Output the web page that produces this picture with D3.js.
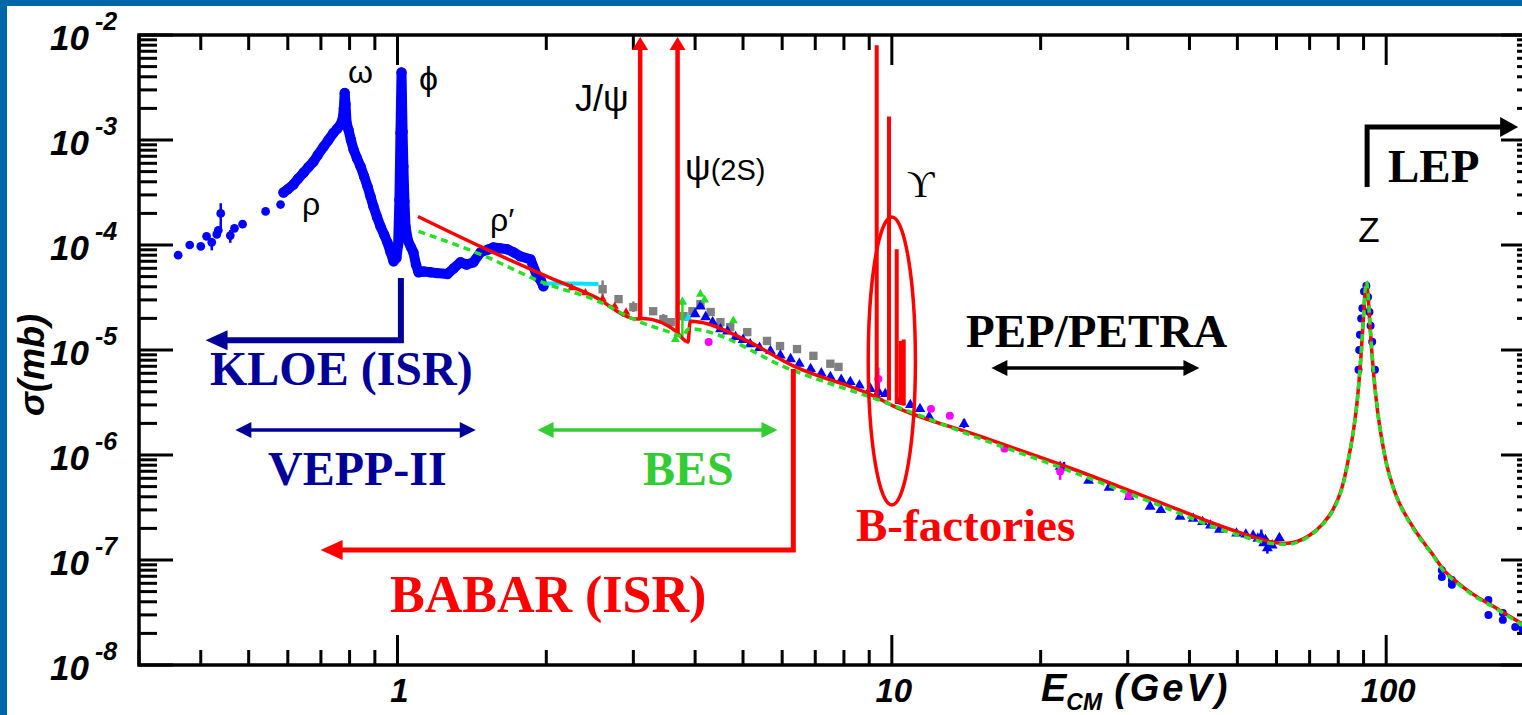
<!DOCTYPE html>
<html>
<head>
<meta charset="utf-8">
<script src="https://cdn.jsdelivr.net/npm/d3@7"></script>
<style>
  html, body { margin: 0; padding: 0; background: #fff; }
  svg { display: block; }
</style>
</head>
<body>
<div id="chart"></div>
<script>
// ---- data (E in GeV, sigma in mb) ----
const yExponents = [-2, -3, -4, -5, -6, -7, -8];
const xLabels = [1, 10, 100];

// low energy scattered points below the rho
const loPts = [[0.36,8.0e-5],[0.38,1.0e-4],[0.40,9.7e-5],[0.411,1.21e-4],[0.421,1.06e-4],[0.431,1.26e-4],
  [0.434,1.38e-4],[0.439,2.0e-4],[0.459,1.23e-4],[0.468,1.44e-4],[0.486,1.58e-4],[0.541,2.09e-4],[0.58,2.43e-4]];
const loErr = [[0.421,8.9e-5,1.17e-4],[0.439,1.39e-4,2.5e-4],[0.459,1.05e-4,1.39e-4]];

// dense blue band rho / omega / phi / rho'
const bandPts = [[0.588,3.16e-4],[0.60,3.4e-4],[0.616,3.77e-4],[0.63,4.3e-4],[0.646,4.9e-4],[0.66,5.5e-4],
  [0.676,6.2e-4],[0.69,7.2e-4],[0.709,8.65e-4],[0.725,1.0e-3],[0.742,1.17e-3],[0.755,1.28e-3],[0.767,1.40e-3],
  [0.775,1.6e-3],[0.779,2.0e-3],[0.782,2.8e-3],[0.785,2.2e-3],[0.789,1.45e-3],[0.796,1.25e-3],[0.805,1.0e-3],
  [0.815,8.1e-4],[0.828,6.7e-4],[0.842,5.6e-4],[0.856,4.5e-4],[0.870,3.6e-4],[0.882,2.9e-4],[0.894,2.33e-4],
  [0.909,1.85e-4],[0.924,1.50e-4],[0.940,1.25e-4],[0.954,1.06e-4],[0.968,8.6e-5],[0.982,7.0e-5],[0.995,7.5e-5],
  [1.003,1.0e-4],[1.009,2.7e-4],[1.014,1.17e-3],[1.019,4.4e-3],[1.024,1.2e-3],[1.028,5.6e-4],[1.033,2.6e-4],
  [1.038,1.5e-4],[1.05,1.1e-4],[1.065,9.5e-5],[1.077,8.5e-5],[1.09,6.5e-5],[1.103,5.5e-5],[1.13,5.6e-5],
  [1.166,5.5e-5],[1.20,5.4e-5],[1.262,5.3e-5],[1.30,6.0e-5],[1.341,6.85e-5],[1.38,6.5e-5],[1.424,6.85e-5],
  [1.472,8.5e-5],[1.52,9.0e-5],[1.563,9.5e-5],[1.61,9.3e-5],[1.668,9.1e-5],[1.72,8.5e-5],[1.772,7.8e-5],
  [1.858,7.3e-5],[1.918,5.0e-5],[1.95,4.6e-5],[1.973,4.05e-5]];

// blue triangles 4 - 60 GeV
const triPts = [[4.0,2.2e-5],[4.1,2.6e-5],[4.2,2.06e-5],[4.34,1.84e-5],[4.5,1.58e-5],[4.65,1.5e-5],[4.83,1.33e-5],
  [5.0,1.25e-5],[5.17,1.14e-5],[5.4,1.05e-5],[5.68,9.8e-6],[5.95,8.9e-6],[6.24,8.2e-6],[6.5,7.4e-6],[6.85,6.6e-6],
  [7.2,6.0e-6],[7.51,5.55e-6],[7.9,5.2e-6],[8.24,4.97e-6],[8.6,4.6e-6],[9.05,4.27e-6],[9.4,4.0e-6],[9.7,3.82e-6],
  [10.4,3.28e-6],[10.9,3.0e-6],[11.4,2.75e-6],[11.9,2.31e-6],[14.0,1.98e-6],[21.9,7.74e-7],[25.0,5.7e-7],
  [27.5,4.9e-7],[30.2,4.02e-7],[33.3,3.23e-7],[35.0,3.0e-7],[38.3,2.59e-7],[40.7,2.48e-7],[42.5,2.3e-7],
  [44.1,2.13e-7],[46,1.95e-7],[49.8,1.79e-7],[52.0,1.75e-7],[53.8,1.71e-7],[55.0,1.6e-7],[55.9,1.68e-7],
  [56.5,1.45e-7],[57.0,1.55e-7],[57.5,1.3e-7],[58.8,1.38e-7],[60.8,1.62e-7]];
const triErr = [[9.4,3.4e-6,5.2e-6],[14.0,1.8e-6,2.2e-6],[22.3,7.0e-7,8.6e-7],[55.9,1.45e-7,1.95e-7],[57.5,1.15e-7,1.6e-7]];

// blue circles at the Z and above
const zPts = [[87.9,6.5e-6],[88.2,1.0e-5],[88.5,1.4e-5],[89.0,2.0e-5],[89.5,2.5e-5],[90.2,3.6e-5],[91.2,4.1e-5],
  [91.9,3.2e-5],[92.5,2.3e-5],[93.0,1.7e-5],[93.7,1.2e-5],[94.9,6.5e-6]];
const lep2Pts = [[129.6,8.0e-8],[129.6,6.9e-8],[135.8,6.45e-8],[135.8,5.8e-8],[161,4.16e-8],[161,3.0e-8],
  [172.2,3.13e-8],[172.2,2.69e-8],[182.4,2.3e-8],[188.6,2.2e-8],[195.5,2.0e-8]];

const grayPts = [[2.60,3.79e-5],[2.80,3.05e-5],[3.0,2.56e-5],[3.29,2.34e-5],[3.45,1.97e-5],[3.57,1.84e-5],
  [3.79,2.1e-5],[3.95,2.34e-5],[4.10,2.74e-5],[4.30,2.3e-5],[4.50,1.84e-5],[4.71,1.65e-5],[5.10,1.48e-5],
  [5.59,1.22e-5],[5.94,1.09e-5],[6.43,1.02e-5],[6.94,8.8e-6],[7.51,7.4e-6],[7.80,6.9e-6]];
const grayErr = [[2.60,3.2e-5,4.6e-5],[3.0,2.3e-5,2.9e-5],[3.45,1.75e-5,2.2e-5]];

const magPts = [[4.26,1.19e-5],[9.39,5.3e-6],[12.0,2.75e-6],[13.1,2.36e-6],[16.9,1.15e-6],[21.9,6.95e-7],[30.2,4.11e-7]];
const magErr = [[9.39,4.2e-6,6.8e-6],[21.9,5.8e-7,7.6e-7]];

const greenTri = [[2.9,2.2e-5],[3.65,1.26e-5],[3.77,2.86e-5],[4.1,3.4e-5],[4.18,3.0e-5],[4.78,1.9e-5]];
const greenErr = [[3.77,1.3e-5,2.9e-5]];

const cyanLine = [[1.97,4.3e-5],[2.25,4.3e-5],[2.55,4.25e-5]];
const cyanPts = [[3.77,2.9e-5],[3.87,2.0e-5]];
const redPts = [[2.25,3.9e-5],[2.4,3.5e-5],[2.6,3.05e-5],[2.75,2.6e-5],[2.9,2.3e-5]];

// red theory curve and green dashed curve
const fitPts = [[1.10,1.87e-4],[1.47,9.7e-5],[2.01,5.0e-5],[2.49,3.26e-5],[3.06,1.97e-5],[3.14,2.0e-5],
  [3.68,1.48e-5],[3.73,1.36e-5],[3.87,1.19e-5],[3.91,1.88e-5],[4.10,1.84e-5],[5.10,1.22e-5],[6.32,7.05e-6],
  [9.18,3.66e-6],[10.06,2.94e-6],[15.0,1.52e-6],[22.3,7.9e-7],[33.3,3.85e-7],[49.8,1.87e-7],[60,1.46e-7],
  [63,1.44e-7],[66,1.5e-7],[70,1.72e-7],[74,2.15e-7],[78,3.0e-7],[81.5,5.0e-7],[84,9.5e-7],[86,1.8e-6],
  [87.5,3.5e-6],[88.8,8.0e-6],[89.8,1.8e-5],[90.5,3.2e-5],[91.2,4.3e-5],[91.9,3.3e-5],[92.6,1.9e-5],
  [93.6,9.2e-6],[94.8,4.6e-6],[96,2.7e-6],[98,1.4e-6],[100,8.5e-7],[102,6.0e-7],[104,4.5e-7],[106,3.6e-7],
  [108,3.0e-7],[111,2.4e-7],[115,1.85e-7],[120,1.4e-7],[125,1.08e-7],[130,8.3e-8],[140,6.0e-8],[150,4.7e-8],
  [165,3.6e-8],[180,2.8e-8],[190,2.4e-8],[200,2.1e-8]];
const dashPts = [[1.103,1.35e-4],[1.472,8.15e-5],[2.01,4.23e-5],[2.49,3.05e-5],[3.1,1.84e-5],[3.6,1.45e-5],
  [3.75,1.35e-5],[3.9,1.6e-5],[4.1,1.55e-5],[6.2,6.6e-6],[9.5,3.28e-6],[15.1,1.43e-6],[22.3,7.4e-7],
  [33.3,3.6e-7],[49.8,1.75e-7],[60,1.42e-7],[63,1.41e-7],[66,1.47e-7],[70,1.7e-7],[74,2.12e-7],[78,2.95e-7],
  [81.5,4.9e-7],[84,9.4e-7],[86,1.8e-6],[87.5,3.5e-6],[88.8,8.0e-6],[89.8,1.8e-5],[90.5,3.3e-5],
  [91.2,4.5e-5],[91.9,3.4e-5],[92.6,1.9e-5],[93.6,9.2e-6],[94.8,4.6e-6],[96,2.7e-6],[98,1.4e-6],[100,8.4e-7],
  [102,5.9e-7],[104,4.45e-7],[106,3.55e-7],[108,2.95e-7],[111,2.35e-7],[115,1.8e-7],[120,1.38e-7],
  [125,1.06e-7],[130,8.1e-8],[140,5.9e-8],[150,4.6e-8],[165,3.55e-8],[180,2.75e-8],[190,2.35e-8],[200,2.05e-8]];

// narrow resonances
const charmE = [3.097, 3.686];
const charmBase = [1.97e-5, 1.48e-5];
const charmTop = 1e-2;
const upsE = [9.32, 9.87, 10.23, 10.42, 10.57];
const upsTop = [8.0e-3, 1.67e-3, 9.1e-5, 1.22e-5, 1.26e-5];
const upsBase = [3.6e-6, 3.3e-6, 3.1e-6, 3.0e-6, 2.95e-6];
const upsEllipseE = [8.96, 11.16];
const upsEllipseS = [3.34e-7, 1.85e-4];

// experiment ranges
const kloePath = [[1.016,4.85e-5],[1.016,1.24e-5],[0.409,1.24e-5]];
const veppRange = [0.47, 1.44, 1.73e-6];
const besRange = [1.92, 5.87, 1.73e-6];
const babarPath = [[6.32,6.6e-6],[6.32,1.245e-7],[0.699,1.245e-7]];
const pepRange = [15.9, 41.9, 6.75e-6];
const lepPath = [[91.5,3.56e-4],[91.5,1.33e-3],[184.9,1.33e-3]];

// ---- drawing ----
const W = 1522, H = 715;
const sans = "'Liberation Sans', Arial, Helvetica, sans-serif";
const serif = "'Liberation Serif', 'Times New Roman', serif";
const navy = '#000099', blue = '#0000ff', red = '#ff0000';

const x = d3.scaleLog().domain([0.3, 200]).range([139, 1535]);
const y = d3.scaleLog().domain([1e-8, 1e-2]).range([665, 35]);

const svg = d3.select('#chart').append('svg')
    .attr('width', W).attr('height', H)
    .attr('viewBox', `0 0 ${W} ${H}`);
svg.append('rect').attr('width', W).attr('height', H).attr('fill', '#fff');

svg.append('clipPath').attr('id', 'plotClip').append('rect')
    .attr('x', 139).attr('y', 35).attr('width', 1535 - 139).attr('height', 665 - 35);

// ticks
const axes = svg.append('g').attr('stroke', '#000');
const isMajor = v => Math.abs(Math.log10(v) - Math.round(Math.log10(v))) < 1e-6;
x.ticks().forEach(v => {
    const L = isMajor(v) ? 30 : 15, px = x(v);
    axes.append('line').attr('x1', px).attr('x2', px).attr('y1', 665).attr('y2', 665 - L).attr('stroke-width', 3);
    axes.append('line').attr('x1', px).attr('x2', px).attr('y1', 35).attr('y2', 35 + L).attr('stroke-width', 3);
});
y.ticks().forEach(v => {
    const L = isMajor(v) ? 34 : 18, py = y(v);
    axes.append('line').attr('x1', 139).attr('x2', 139 + L).attr('y1', py).attr('y2', py).attr('stroke-width', 3);
    axes.append('line').attr('x1', 1535).attr('x2', 1535 - L).attr('y1', py).attr('y2', py).attr('stroke-width', 3);
});
axes.append('rect').attr('x', 139).attr('y', 35).attr('width', 1535 - 139).attr('height', 630)
    .attr('fill', 'none').attr('stroke-width', 3.5);

// tick labels
yExponents.forEach(e => {
    const t = svg.append('text').attr('x', 50).attr('y', y(Math.pow(10, e)) + 15)
        .style('font-family', sans).style('font-weight', 'bold').style('font-style', 'italic')
        .style('font-size', '35px');
    t.append('tspan').text('10');
    t.append('tspan').attr('dx', 6).attr('dy', -20).style('font-size', '25px').text(String(e));
});
xLabels.forEach(v => {
    svg.append('text').attr('x', x(v) + 2).attr('y', 702).attr('text-anchor', 'middle')
        .style('font-family', sans).style('font-weight', 'bold').style('font-style', 'italic')
        .style('font-size', '33px').text(v);
});

// axis titles
const xTitle = svg.append('text').attr('x', 1041).attr('y', 701)
    .style('font-family', sans).style('font-weight', 'bold').style('font-style', 'italic').style('font-size', '38px');
xTitle.append('tspan').text('E');
xTitle.append('tspan').attr('dy', 9).style('font-size', '23px').text('CM');
xTitle.append('tspan').attr('dy', -9).attr('dx', 12).style('letter-spacing', '3px').text('(GeV)');

svg.append('text').attr('transform', 'translate(44,365) rotate(-90)').attr('text-anchor', 'middle')
    .style('font-family', sans).style('font-weight', 'bold').style('font-style', 'italic').style('font-size', '36px')
    .text('σ(mb)');

// plot contents
const plot = svg.append('g').attr('clip-path', 'url(#plotClip)');
const line = d3.line().x(d => x(d[0])).y(d => y(d[1]));
const smooth = d3.line().x(d => x(d[0])).y(d => y(d[1])).curve(d3.curveMonotoneX);

function errBars(data, color) {
    plot.selectAll(null).data(data).enter().append('line')
        .attr('x1', d => x(d[0])).attr('x2', d => x(d[0]))
        .attr('y1', d => y(d[1])).attr('y2', d => y(d[2]))
        .attr('stroke', color).attr('stroke-width', 2.5);
}
function symbols(data, type, size, color) {
    plot.selectAll(null).data(data).enter().append('path')
        .attr('transform', d => `translate(${x(d[0])},${y(d[1])})`)
        .attr('d', d3.symbol().type(type).size(size))
        .attr('fill', color);
}

// blue band
plot.append('path').datum(bandPts).attr('d', line)
    .attr('fill', 'none').attr('stroke', blue).attr('stroke-width', 10)
    .attr('stroke-linejoin', 'round').attr('stroke-linecap', 'round');
symbols(bandPts, d3.symbolCircle, 85, blue);
errBars(loErr, blue);
symbols(loPts, d3.symbolCircle, 60, blue);

errBars(grayErr, '#808080');
symbols(grayPts, d3.symbolSquare, 70, '#808080');
plot.append('path').datum(cyanLine).attr('d', line)
    .attr('fill', 'none').attr('stroke', '#00e5ff').attr('stroke-width', 4);
symbols(cyanPts, d3.symbolTriangle, 35, '#00e5ff');
errBars(triErr, blue);
symbols(triPts, d3.symbolTriangle, 50, blue);
errBars(greenErr, '#22dd22');
symbols(greenTri, d3.symbolTriangle, 35, '#22dd22');
symbols(zPts, d3.symbolCircle, 50, blue);
symbols(lep2Pts, d3.symbolCircle, 50, blue);
errBars(magErr, '#ff00ff');
symbols(magPts, d3.symbolCircle, 50, '#ff00ff');
symbols(redPts, d3.symbolTriangle, 30, red);

// theory curves
plot.append('path').datum(fitPts).attr('d', smooth)
    .attr('fill', 'none').attr('stroke', red).attr('stroke-width', 3.5);
plot.append('path').datum(dashPts).attr('d', smooth)
    .attr('fill', 'none').attr('stroke', '#22e022').attr('stroke-width', 3.5).attr('stroke-dasharray', '7,5');

// narrow resonances
charmE.forEach((e, i) => {
    const px = x(e);
    plot.append('line').attr('x1', px).attr('x2', px).attr('y1', y(charmBase[i])).attr('y2', y(charmTop) + 12)
        .attr('stroke', red).attr('stroke-width', 4.5);
    plot.append('path').attr('d', `M${px},${y(charmTop) + 2}L${px - 8},${y(charmTop) + 15}L${px + 8},${y(charmTop) + 15}Z`)
        .attr('fill', red);
});
upsE.forEach((e, i) => {
    plot.append('line').attr('x1', x(e)).attr('x2', x(e)).attr('y1', y(upsBase[i])).attr('y2', y(upsTop[i]))
        .attr('stroke', red).attr('stroke-width', 4);
});
plot.append('ellipse')
    .attr('cx', (x(upsEllipseE[0]) + x(upsEllipseE[1])) / 2)
    .attr('cy', (y(upsEllipseS[0]) + y(upsEllipseS[1])) / 2)
    .attr('rx', (x(upsEllipseE[1]) - x(upsEllipseE[0])) / 2)
    .attr('ry', (y(upsEllipseS[0]) - y(upsEllipseS[1])) / 2)
    .attr('fill', 'none').attr('stroke', red).attr('stroke-width', 3.5);

// arrows
function head(px, py, dir, len, half, color) {
    const s = dir === 'left' ? 1 : -1;
    svg.append('path').attr('d', `M${px},${py}L${px + s * len},${py - half}L${px + s * len},${py + half}Z`)
        .attr('fill', color);
}
function bentArrow(pts, width, len, half, color) {
    const p = pts.map(d => [x(d[0]), y(d[1])]);
    const last = p[p.length - 1], prev = p[p.length - 2];
    const dir = last[0] < prev[0] ? 'left' : 'right';
    const s = dir === 'left' ? 1 : -1;
    const q = p.slice(0, -1).concat([[last[0] + s * (len - 2), last[1]]]);
    svg.append('path').attr('d', d3.line()(q)).attr('fill', 'none')
        .attr('stroke', color).attr('stroke-width', width).attr('stroke-linejoin', 'miter');
    head(last[0], last[1], dir, len, half, color);
}
function doubleArrow(r, width, len, half, color) {
    const x0 = x(r[0]), x1 = x(r[1]), py = y(r[2]);
    svg.append('line').attr('x1', x0 + len - 2).attr('x2', x1 - len + 2).attr('y1', py).attr('y2', py)
        .attr('stroke', color).attr('stroke-width', width);
    head(x0, py, 'left', len, half, color);
    head(x1, py, 'right', len, half, color);
}
bentArrow(kloePath, 6, 22, 10, navy);
doubleArrow(veppRange, 3.5, 16, 8, navy);
doubleArrow(besRange, 3.5, 16, 8, '#33cc33');
bentArrow(babarPath, 5, 22, 10, red);
doubleArrow(pepRange, 3.5, 16, 8, '#000');
bentArrow(lepPath, 5, 18, 10, '#000');

// annotation text
function label(txt, px, py, opts) {
    return svg.append('text').attr('x', px).attr('y', py)
        .attr('text-anchor', opts.anchor || 'start')
        .style('font-family', opts.family || serif)
        .style('font-weight', opts.weight || 'bold')
        .style('font-size', opts.size + 'px')
        .attr('fill', opts.color || '#000')
        .text(txt);
}
label('KLOE (ISR)', 210, 385, {size: 48, color: navy});
label('VEPP-II', 268, 485, {size: 48, color: navy});
label('BES', 643, 485, {size: 48, color: '#33cc33'});
label('BABAR (ISR)', 390, 612, {size: 52, color: red});
label('B-factories', 856, 541, {size: 47, color: red});
label('PEP/PETRA', 966, 347, {size: 47});
label('LEP', 1388, 182, {size: 47});

label('ω', 348, 83, {size: 32, family: sans, weight: 'normal'});
label('ϕ', 419, 90, {size: 34, family: sans, weight: 'normal'});
label('ρ', 302, 215, {size: 32, family: sans, weight: 'normal'});
label('ρ′', 490, 231, {size: 32, family: sans, weight: 'normal'});
label('J/ψ', 575, 111, {size: 36, family: sans, weight: 'normal'});
const psi = label('ψ', 685, 180, {size: 36, family: sans, weight: 'normal'});
psi.append('tspan').style('font-size', '29px').text('(2S)');
label('ϒ', 907, 197, {size: 38, family: "'Liberation Serif', 'DejaVu Serif', serif", weight: 'normal'});
label('Z', 1369, 242, {size: 35, family: sans, weight: 'normal', anchor: 'middle'});

// slide frame
svg.append('rect').attr('x', 0).attr('y', 0).attr('width', 7).attr('height', H).attr('fill', '#0066aa');
svg.append('rect').attr('x', 0).attr('y', 0).attr('width', W).attr('height', 6).attr('fill', '#0066aa');
</script>
</body>
</html>
